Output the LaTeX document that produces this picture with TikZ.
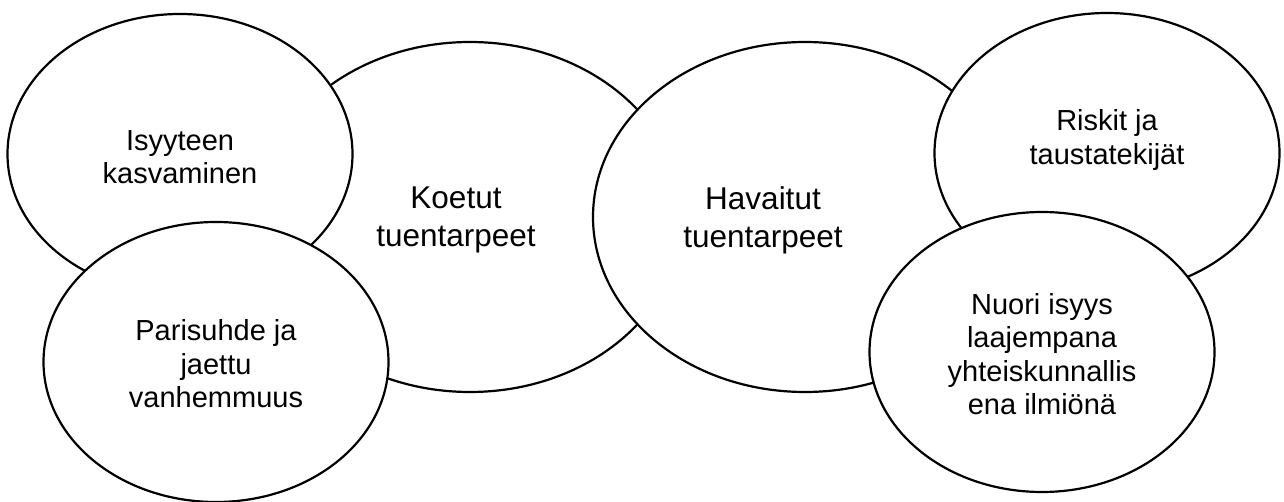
\documentclass[tikz,border=0pt]{standalone}
\usepackage{fontspec}
\setmainfont{Liberation Sans}
\usetikzlibrary{shapes.geometric}
\tikzset{
  bub/.style={ellipse, draw=black, fill=white, line width=2.2pt, inner sep=0pt},
  small/.style={bub, minimum width=345pt, minimum height=280pt},
  big/.style={bub, minimum width=424pt, minimum height=350pt},
  smalltxt/.style={align=center, font=\fontsize{29}{33.5}\selectfont, inner sep=0pt},
  bigtxt/.style={align=center, font=\fontsize{31.5}{38}\selectfont, inner sep=0pt}
}
\begin{document}
\begin{tikzpicture}[x=1pt,y=-1pt]
\useasboundingbox (0,0) rectangle (1284,502);
\node[big] (koe) at (470,217) {};
\node[big] (hav) at (805,217) {};
\node[small] (isy) at (180,154) {};
\node[small] (par) at (216,362) {};
\node[small] (ris) at (1107,153) {};
\node[small] (nuo) at (1042,352) {};
\node[bigtxt] (koet) at (456,220) {Koetut\\tuentarpeet};
\node[bigtxt] (havt) at (763,220) {Havaitut\\tuentarpeet};
\node[smalltxt] (isyt) at (180,157) {Isyyteen\\kasvaminen};
\node[smalltxt] (part) at (216,364) {Parisuhde ja\\jaettu\\vanhemmuus};
\node[smalltxt] (rist) at (1107,140) {Riskit ja\\taustatekijät};
\node[smalltxt] (nuot) at (1042,354) {Nuori isyys\\laajempana\\yhteiskunnallis\\ena ilmiönä};
\end{tikzpicture}
\end{document}
